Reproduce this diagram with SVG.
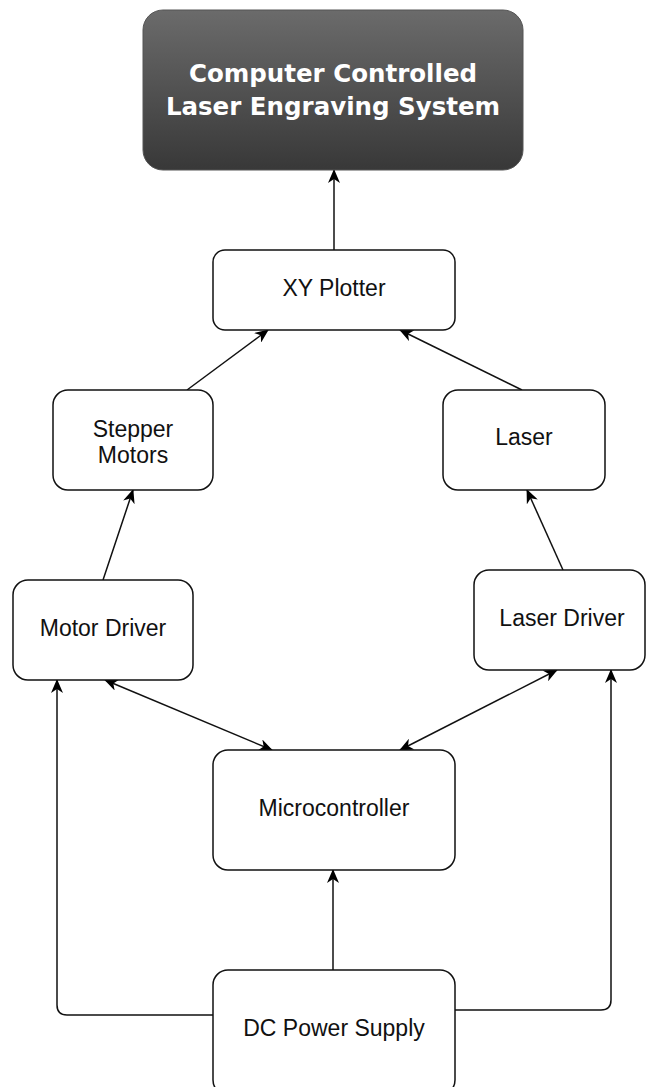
<svg xmlns="http://www.w3.org/2000/svg" width="646" height="1087" viewBox="0 0 646 1087">
  <defs>
    <linearGradient id="titleFill" x1="0" y1="0" x2="0" y2="1">
      <stop offset="0" stop-color="#6b6b6b"/>
      <stop offset="1" stop-color="#383838"/>
    </linearGradient>
    <marker id="arrow" viewBox="0 0 14 12" refX="13" refY="6" markerWidth="14" markerHeight="12" markerUnits="userSpaceOnUse" orient="auto-start-reverse">
      <path d="M0,0 L14,6 L0,12 L4,6 z" fill="#000"/>
    </marker>
  </defs>
  <style>
    .box { fill: #fff; stroke: #111; stroke-width: 1.5; }
    .label { font-family: "Liberation Sans", Arial, sans-serif; font-size: 23px; fill: #111; text-anchor: middle; }
    .title { font-family: "DejaVu Sans", Verdana, sans-serif; font-weight: bold; font-size: 24.5px; fill: #fff; text-anchor: middle; }
    .wire { fill: none; stroke: #111; stroke-width: 1.5; }
  </style>
  <rect width="646" height="1087" fill="#fff"/>

  <g id="connectors">
    <path class="wire" d="M334,250 L334,170" marker-end="url(#arrow)"/>
    <path class="wire" d="M187,390 L268,330" marker-end="url(#arrow)"/>
    <path class="wire" d="M522,390 L400,330" marker-end="url(#arrow)"/>
    <path class="wire" d="M103,580 L133,490" marker-end="url(#arrow)"/>
    <path class="wire" d="M563,570 L527,490" marker-end="url(#arrow)"/>
    <path class="wire" d="M105,680 L272,750" marker-start="url(#arrow)" marker-end="url(#arrow)"/>
    <path class="wire" d="M557,670 L400,750" marker-start="url(#arrow)" marker-end="url(#arrow)"/>
    <path class="wire" d="M333,970 L333,870" marker-end="url(#arrow)"/>
    <path class="wire" d="M213,1015 L67,1015 Q57,1015 57,1005 L57,680" marker-end="url(#arrow)"/>
    <path class="wire" d="M455,1010 L601,1010 Q611,1010 611,1000 L611,670" marker-end="url(#arrow)"/>
  </g>

  <g id="system">
    <rect x="143" y="10" width="380" height="160" rx="20" ry="20" fill="url(#titleFill)" stroke="#555" stroke-width="1"/>
    <text class="title" x="333" y="82">Computer Controlled</text>
    <text class="title" x="333" y="115">Laser Engraving System</text>
  </g>

  <g id="xy-plotter">
    <rect class="box" x="213" y="250" width="242" height="80" rx="12" ry="12"/>
    <text class="label" x="334" y="296">XY Plotter</text>
  </g>

  <g id="stepper-motors">
    <rect class="box" x="53" y="390" width="160" height="100" rx="15" ry="15"/>
    <text class="label" x="133" y="437">Stepper</text>
    <text class="label" x="133" y="463">Motors</text>
  </g>

  <g id="laser">
    <rect class="box" x="443" y="390" width="162" height="100" rx="15" ry="15"/>
    <text class="label" x="524" y="445">Laser</text>
  </g>

  <g id="motor-driver">
    <rect class="box" x="13" y="580" width="180" height="100" rx="15" ry="15"/>
    <text class="label" x="103" y="636">Motor Driver</text>
  </g>

  <g id="laser-driver">
    <rect class="box" x="474" y="570" width="171" height="100" rx="15" ry="15"/>
    <text class="label" x="562" y="626">Laser Driver</text>
  </g>

  <g id="microcontroller">
    <rect class="box" x="213" y="750" width="242" height="120" rx="15" ry="15"/>
    <text class="label" x="334" y="816">Microcontroller</text>
  </g>

  <g id="dc-power-supply">
    <rect class="box" x="213" y="970" width="242" height="125" rx="15" ry="15"/>
    <text class="label" x="334" y="1036">DC Power Supply</text>
  </g>
</svg>
